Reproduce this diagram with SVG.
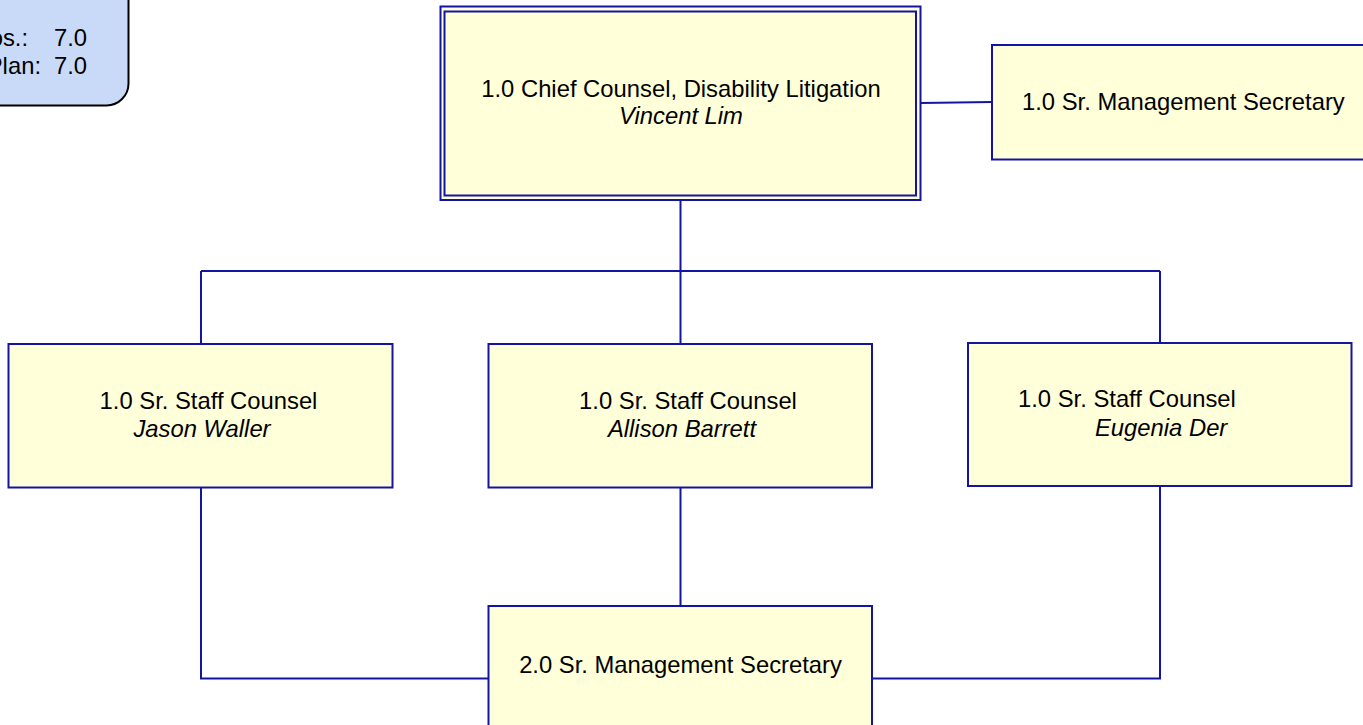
<svg xmlns="http://www.w3.org/2000/svg" width="1363" height="725" viewBox="0 0 1363 725">
<style>
.box{fill:#FFFFD9;stroke:#1414A3;stroke-width:2}
.conn{fill:none;stroke:#1414A3;stroke-width:2}
.t{font-family:"Liberation Sans",Arial,sans-serif;font-size:23.8px;fill:#000}
.i{font-style:italic}
.m{text-anchor:middle}
.e{text-anchor:end}
</style>
<rect x="0" y="0" width="1363" height="725" fill="#fff"/>
<g id="legend">
<rect x="-30" y="-30" width="158.5" height="135.5" rx="22" fill="#C9DAF8" stroke="#000" stroke-width="2"/>
<text class="t e" x="28" y="46">os.:</text>
<text class="t" x="54" y="46">7.0</text>
<text class="t e" x="41" y="74">Plan:</text>
<text class="t" x="54" y="74">7.0</text>
</g>
<g id="connectors">
<path class="conn" d="M921,103 L992,102"/>
<path class="conn" d="M680.5,200 V271 M201,271 H1160 M201,271 V344 M680.5,271 V344 M1160,271 V343"/>
<path class="conn" d="M680.5,488 V606 M201,488 V678.5 H488 M1160,486 V678.5 H872"/>
</g>
<g id="chief">
<rect class="box" x="440.5" y="6.5" width="480" height="193.5"/>
<rect x="444.5" y="11.5" width="471.5" height="184" fill="none" stroke="#1414A3" stroke-width="2"/>
<text class="t m" x="681" y="97">1.0 Chief Counsel, Disability Litigation</text>
<text class="t m i" x="681" y="124">Vincent Lim</text>
</g>
<g id="secretary1">
<rect class="box" x="992" y="45" width="400" height="114.5"/>
<text class="t" x="1022" y="110">1.0 Sr. Management Secretary</text>
</g>
<g id="waller">
<rect class="box" x="8.5" y="344" width="384" height="143.5"/>
<text class="t m" x="208.5" y="409">1.0 Sr. Staff Counsel</text>
<text class="t m i" x="202" y="437">Jason Waller</text>
</g>
<g id="barrett">
<rect class="box" x="488.5" y="344" width="383.5" height="143.5"/>
<text class="t m" x="688" y="409">1.0 Sr. Staff Counsel</text>
<text class="t m i" x="682" y="437">Allison Barrett</text>
</g>
<g id="der">
<rect class="box" x="968" y="343" width="383.5" height="143"/>
<text class="t" x="1018" y="407">1.0 Sr. Staff Counsel</text>
<text class="t i" x="1095" y="436">Eugenia Der</text>
</g>
<g id="secretary2">
<rect class="box" x="488.5" y="606" width="383.5" height="140"/>
<text class="t m" x="680.5" y="673">2.0 Sr. Management Secretary</text>
</g>
</svg>
